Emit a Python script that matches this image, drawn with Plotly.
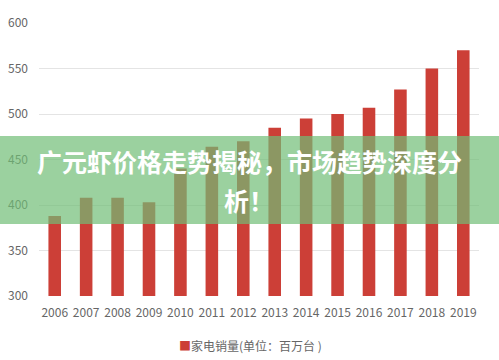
import plotly.graph_objects as go

years = ["2006", "2007", "2008", "2009", "2010", "2011", "2012",
         "2013", "2014", "2015", "2016", "2017", "2018", "2019"]
sales = [388, 408, 408, 403, 440, 464, 470, 485, 495, 500, 507, 527, 550, 570]
y_ticks = [300, 350, 400, 450, 500, 550, 600]
series_name = "家电销量(单位：百万台 )"
title_line1 = "广元虾价格走势揭秘，市场趋势深度分"
title_line2 = "析！"

FONT = "Noto Sans CJK SC, Noto Sans, sans-serif"
BAR = "#cc3f37"

L, R, T, B = 39, 20, 23, 64
PW, PH = 499 - L - R, 360 - T - B


def px_x(x):
    return (x - L) / PW


def px_y(y):
    return (360 - B - y) / PH


fig = go.Figure()
fig.add_trace(go.Bar(
    x=years, y=sales, name=series_name,
    marker=dict(color=BAR, line=dict(width=0)),
    showlegend=False,
))

fig.update_layout(
    width=499, height=360,
    margin=dict(l=L, r=R, t=T, b=B, autoexpand=False),
    paper_bgcolor="white", plot_bgcolor="white",
    bargap=0.6,
    font=dict(family=FONT, color="#666666", size=12),
    showlegend=False,
    xaxis=dict(type="category", showgrid=False, showline=False, ticks="",
               ticklabelstandoff=8,
               tickfont=dict(size=12, color="#666666"), fixedrange=True),
    yaxis=dict(range=[300, 600], tickvals=y_ticks, showgrid=True, gridcolor="#e4e4e4",
               gridwidth=1, zeroline=False, showline=False, ticks="",
               ticklabelstandoff=10,
               tickfont=dict(size=12, color="#666666"), fixedrange=True),
    shapes=[dict(type="rect", xref="paper", yref="paper",
                 x0=px_x(-5), x1=px_x(505), y0=px_y(224), y1=px_y(136),
                 fillcolor="rgba(112,190,118,0.7)", line=dict(width=0), layer="above")],
    annotations=[
        dict(text="<span style='color:%s'>■</span>%s" % (BAR, series_name),
             xref="paper", yref="paper", x=px_x(250), y=px_y(345), showarrow=False,
             font=dict(size=12, color="#666666", family=FONT),
             xanchor="center", yanchor="middle"),
        dict(text="<b>" + title_line1 + "</b>", xref="paper", yref="paper",
             x=px_x(249), y=px_y(161), showarrow=False,
             font=dict(size=25, color="white", family=FONT), xanchor="center", yanchor="middle"),
        dict(text="<b>" + title_line2 + "</b>", xref="paper", yref="paper",
             x=px_x(249), y=px_y(200), showarrow=False,
             font=dict(size=25, color="white", family=FONT), xanchor="center", yanchor="middle"),
    ],
)

fig.write_html("out.html", config={"displayModeBar": False},
               post_script="document.body.style.margin='0';document.body.style.overflow='hidden';")
